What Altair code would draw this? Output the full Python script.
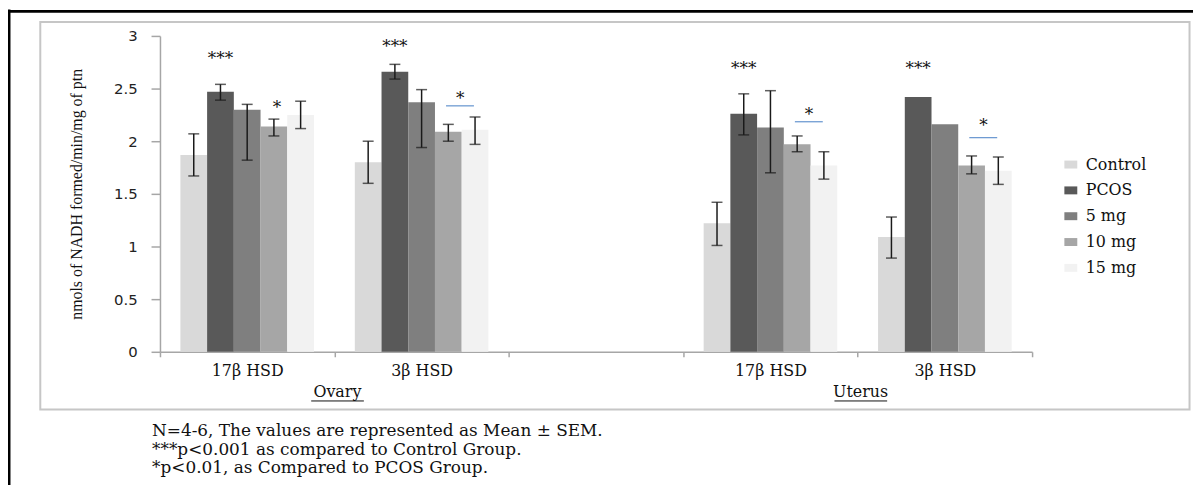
import altair as alt
import pandas as pd

# ---------------- data ----------------
slots = ["Ovary|17β HSD", "Ovary|3β HSD", "gap", "Uterus|17β HSD", "Uterus|3β HSD"]
data_slots = ["Ovary|17β HSD", "Ovary|3β HSD", "Uterus|17β HSD", "Uterus|3β HSD"]
groups = ["Control", "PCOS", "5 mg", "10 mg", "15 mg"]
colors = ["#d9d9d9", "#595959", "#7f7f7f", "#a6a6a6", "#f2f2f2"]

control_mean = [1.87, 1.80, 1.22, 1.09]
control_lo = [1.67, 1.60, 1.01, 0.89]
control_hi = [2.07, 2.00, 1.42, 1.28]

pcos_mean = [2.47, 2.66, 2.26, 2.42]
pcos_lo = [2.39, 2.59, 2.06, None]
pcos_hi = [2.54, 2.73, 2.45, None]

mg5_mean = [2.30, 2.37, 2.13, 2.16]
mg5_lo = [1.82, 1.94, 1.70, None]
mg5_hi = [2.35, 2.49, 2.48, None]

mg10_mean = [2.14, 2.09, 1.97, 1.77]
mg10_lo = [2.05, 2.00, 1.90, 1.69]
mg10_hi = [2.21, 2.16, 2.05, 1.86]

mg15_mean = [2.25, 2.11, 1.77, 1.72]
mg15_lo = [2.12, 1.97, 1.64, 1.59]
mg15_hi = [2.38, 2.23, 1.90, 1.85]

triple_star_slots = data_slots
triple_star_y = [2.82, 2.93, 2.72, 2.72]

single_star_plain_slots = ["Ovary|17β HSD"]
single_star_plain_y = [2.35]

single_star_line_slots = ["Ovary|3β HSD", "Uterus|17β HSD", "Uterus|3β HSD"]
single_star_line_y = [2.44, 2.29, 2.18]
sig_line_y = [2.336, 2.185, 2.034]

group_label_left = ["Ovary|17β HSD", "Uterus|17β HSD"]
group_label_right = ["Ovary|3β HSD", "Uterus|3β HSD"]
group_labels = ["Ovary", "Uterus"]

footnote_lines = [
    "N=4-6, The values are represented as Mean ± SEM.",
    "***p<0.001 as compared to Control Group.",
    "*p<0.01, as Compared to PCOS Group.",
]

y_title = "nmols of NADH formed/min/mg of ptn"

# ---------------- tables ----------------
series = {
    "Control": (control_mean, control_lo, control_hi),
    "PCOS": (pcos_mean, pcos_lo, pcos_hi),
    "5 mg": (mg5_mean, mg5_lo, mg5_hi),
    "10 mg": (mg10_mean, mg10_lo, mg10_hi),
    "15 mg": (mg15_mean, mg15_lo, mg15_hi),
}
rows = []
for g in groups:
    m, lo, hi = series[g]
    for i, s in enumerate(data_slots):
        rows.append({"slot": s, "group": g, "mean": m[i], "lo": lo[i], "hi": hi[i]})
df = pd.DataFrame(rows)
err_df = df.dropna(subset=["lo", "hi"])

tri_df = pd.DataFrame({"slot": triple_star_slots, "group": "PCOS", "v": triple_star_y, "t": "***"})
s1_df = pd.DataFrame({"slot": single_star_plain_slots, "group": "10 mg", "v": single_star_plain_y, "t": "*"})
s2_df = pd.DataFrame({"slot": single_star_line_slots, "group": "10 mg", "v": single_star_line_y, "t": "*"})
line_df = pd.DataFrame({"slot": single_star_line_slots, "slot2": single_star_line_slots, "v": sig_line_y})
grp_df = pd.DataFrame({"slot": group_label_right, "left": group_label_left,
                       "right": group_label_right, "label": group_labels})
note_df = pd.DataFrame({"note": ["\n".join(footnote_lines)]})
one = pd.DataFrame({"k": [0]})

# ---------------- scales / axes ----------------
W, H = 878, 318
SERIF = "DejaVu Serif"
x_scale = alt.Scale(domain=slots, paddingInner=0, paddingOuter=0)
xo_scale = alt.Scale(domain=groups, paddingInner=0, paddingOuter=0.764)
y_scale = alt.Scale(domain=[0, 3], nice=False, zero=True)

x_axis = alt.Axis(
    title=None,
    labelExpr="indexof(datum.label, '|') >= 0 ? split(datum.label, '|')[1] : ''",
    tickBand="extent", tickSize=5, tickColor="#a6a6a6", tickWidth=1.5,
    domainColor="#a6a6a6", domainWidth=1.5,
    labelFont=SERIF, labelFontSize=16, labelColor="#111111",
    labelPadding=6, labelAngle=0,
)
y_axis = alt.Axis(
    title=y_title, values=[0, 0.5, 1, 1.5, 2, 2.5, 3], format="~g", grid=False,
    tickSize=9, tickColor="#a6a6a6", tickWidth=1.5,
    domainColor="#a6a6a6", domainWidth=1.5,
    labelFont="DejaVu Sans", labelFontSize=15, labelColor="#222222", labelPadding=14,
    titleFont="Liberation Serif", titleFontSize=16, titleFontWeight="normal",
    titleColor="#111111", titleX=-84, titleY=H / 2, titleAngle=270,
    titleAlign="center", titleBaseline="middle",
)

X = lambda: alt.X("slot:N", scale=x_scale, axis=x_axis)
XO = lambda: alt.XOffset("group:N", scale=xo_scale)
Y = lambda f: alt.Y(f, scale=y_scale, axis=y_axis)

# ---------------- layers ----------------
black_left = alt.Chart(one).mark_rect(color="black").encode(
    x=alt.value(-153), x2=alt.value(-150.5), y=alt.value(-26.5), y2=alt.value(452))
black_top = alt.Chart(one).mark_rect(color="black").encode(
    x=alt.value(-153), x2=alt.value(1040), y=alt.value(-26.2), y2=alt.value(-23.4))
gray_box = alt.Chart(one).mark_rect(fillOpacity=0, stroke="#c6c6c6", strokeWidth=2).encode(
    x=alt.value(-120.5), x2=alt.value(1036.5), y=alt.value(-14), y2=alt.value(376))

bars = alt.Chart(df).mark_bar().encode(
    x=X(),
    xOffset=XO(),
    y=Y("mean:Q"),
    color=alt.Color(
        "group:N", scale=alt.Scale(domain=groups, range=colors),
        legend=alt.Legend(
            title=None, orient="none", legendX=909, legendY=121.5,
            symbolType="M-1,-0.615H1V0.615H-1Z", symbolSize=169, symbolStrokeWidth=0,
            symbolOpacity=1, labelFont=SERIF, labelFontSize=16, labelColor="#111111",
            labelOffset=7, rowPadding=10, padding=0,
        ),
    ),
)

err_rule = alt.Chart(err_df).mark_rule(color="#1a1a1a", strokeWidth=1.5).encode(
    x=X(), xOffset=XO(), y=Y("lo:Q"), y2="hi:Q")
cap_lo = alt.Chart(err_df).mark_tick(orient="horizontal", size=11, thickness=1.5, color="#1a1a1a").encode(
    x=X(), xOffset=XO(), y=Y("lo:Q"))
cap_hi = alt.Chart(err_df).mark_tick(orient="horizontal", size=11, thickness=1.5, color="#1a1a1a").encode(
    x=X(), xOffset=XO(), y=Y("hi:Q"))

star_style = dict(font=SERIF, fontSize=17, baseline="alphabetic", dy=9, color="#111111")
tri = alt.Chart(tri_df).mark_text(**star_style).encode(
    x=X(), xOffset=XO(), y=Y("v:Q"), text="t:N")
s1 = alt.Chart(s1_df).mark_text(dx=3, **star_style).encode(
    x=X(), xOffset=XO(), y=Y("v:Q"), text="t:N")
s2 = alt.Chart(s2_df).mark_text(dx=12, **star_style).encode(
    x=X(), xOffset=XO(), y=Y("v:Q"), text="t:N")
sig_lines = alt.Chart(line_df).mark_rule(strokeWidth=1.3, color="#6f9bd2").encode(
    x=alt.X("slot:N", scale=x_scale, axis=x_axis, bandPosition=0.64),
    x2=alt.X2("slot2:N", bandPosition=0.8),
    y=Y("v:Q"))

grp_text = alt.Chart(grp_df).mark_text(font=SERIF, fontSize=16, baseline="alphabetic", dx=3, color="#111111").encode(
    x=alt.X("slot:N", scale=x_scale, axis=x_axis, bandPosition=0),
    y=alt.value(364), text="label:N")
grp_line = alt.Chart(grp_df).mark_rule(strokeWidth=1, color="#111111").encode(
    x=alt.X("left:N", scale=x_scale, axis=x_axis, bandPosition=0.867),
    x2=alt.X2("right:N", bandPosition=0.169),
    y=alt.value(367.5))

notes = alt.Chart(note_df).mark_text(
    align="left", baseline="alphabetic", font=SERIF, fontSize=17,
    lineBreak="\n", lineHeight=19, color="#111111",
).encode(x=alt.value(-8), y=alt.value(402.5), text="note:N")

chart = alt.layer(
    black_left, black_top, gray_box,
    bars, err_rule, cap_lo, cap_hi, tri, s1, s2, sig_lines,
    grp_text, grp_line, notes,
).properties(
    width=W, height=H,
    autosize=alt.AutoSizeParams(type="none"),
    padding={"left": 153, "top": 26.5, "right": 162, "bottom": 133.5},
    background="white",
).configure_view(stroke=None)

chart.save("out.html", embed_options={"renderer": "svg", "actions": False})
